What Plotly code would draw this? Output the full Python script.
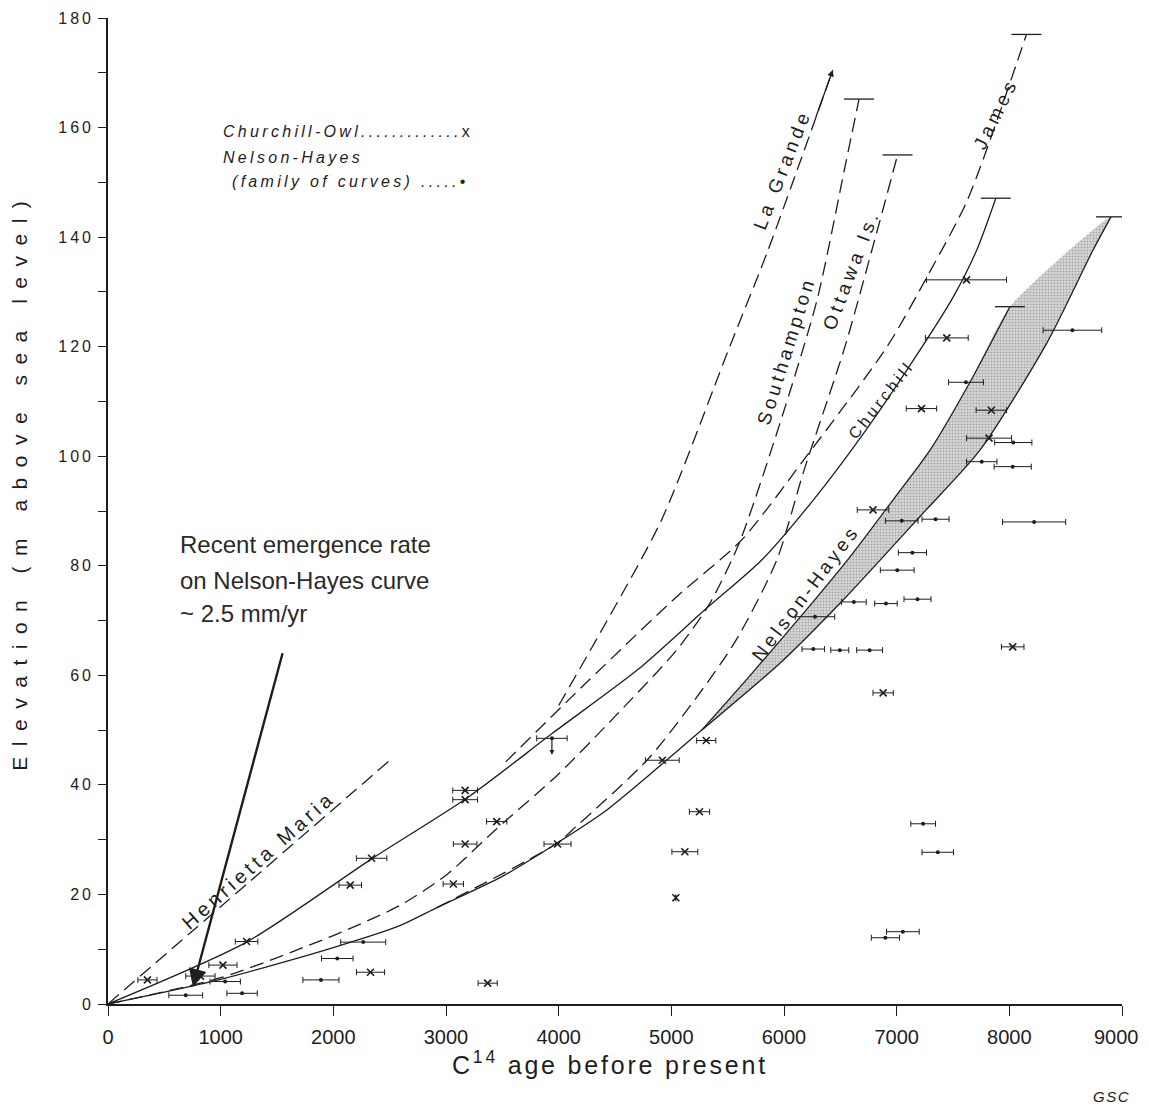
import plotly.graph_objects as go

# ---------------- data ----------------
x_ticks = [0, 1000, 2000, 3000, 4000, 5000, 6000, 7000, 8000, 9000]
y_ticks = list(range(0, 181, 10))

# curves (age, elevation)
hm_x = [0, 1260, 2530]
hm_y = [0, 22.4, 45.0]

church_x = [0, 1230, 2340, 3200, 3950, 4700, 5300, 5800, 6260, 6700, 7150, 7500, 7710, 7880]
church_y = [0, 11.3, 26.5, 37.8, 49.5, 61.0, 72.0, 81.0, 92.0, 104.0, 117.6, 129.0, 137.6, 147.1]

nh_low_x = [0, 1000, 2000, 2590, 2920, 3500, 3980, 4400, 4900, 5270, 5964, 6523, 7207, 7739, 8331, 8742, 8902]
nh_low_y = [0, 4.5, 10.3, 14.3, 17.6, 23.3, 29.3, 35.0, 43.5, 50.0, 62.2, 73.7, 89.0, 101.1, 120.6, 137.6, 143.7]

nh_up_x = [5270, 5700, 6200, 6600, 6967, 7296, 7650, 8005]
nh_up_y = [50.0, 60.0, 72.0, 82.0, 92.0, 101.1, 113.5, 127.3]

south_x = [0, 1000, 2000, 2592, 3000, 3450, 4000, 4500, 5047, 5343, 5600, 5964, 6293, 6541, 6666]
south_y = [0, 4.8, 12.5, 18.0, 23.5, 32.0, 42.0, 52.5, 64.6, 73.2, 84.0, 106.0, 128.5, 152.8, 165.2]

ottawa_x = [2920, 3982, 4160, 4810, 5547, 5935, 6171, 6541, 6821, 7008]
ottawa_y = [17.6, 29.3, 32.5, 45.1, 65.5, 81.0, 97.0, 120.0, 140.7, 155.0]

james_x = [3530, 4127, 5050, 5624, 6200, 6915, 7287, 7629, 8152]
james_y = [44.2, 56.3, 74.4, 84.7, 100.0, 120.0, 133.4, 146.8, 177.0]

lagrande_x = [4000, 4367, 4914, 5516, 5858, 6433]
lagrande_y = [54.5, 67.7, 88.4, 119.9, 137.6, 170.5]

# Churchill-Owl dated samples (x markers)
co_age = [350, 1020, 1230, 820, 2150, 2340, 3170, 3170, 3450, 3170, 3065, 3990, 2330, 3370,
          5310, 4920, 5250, 5120, 5040, 8030, 6880, 7620, 7445, 7220, 7840, 7820, 6790]
co_elev = [4.4, 7.1, 11.4, 5.1, 21.7, 26.6, 39.0, 37.3, 33.3, 29.2, 21.9, 29.2, 5.8, 3.8,
           48.1, 44.5, 35.1, 27.8, 19.4, 65.2, 56.8, 132.2, 121.6, 108.7, 108.4, 103.3, 90.2]
co_err = [85, 125, 100, 130, 100, 135, 110, 110, 90, 105, 90, 120, 125, 85,
          85, 150, 90, 115, 0, 100, 90, 355, 190, 135, 135, 200, 140]

# Nelson-Hayes dated samples (dots)
nh_age = [1040, 690, 1190, 1890, 2035, 2265, 3940, 7755, 8030, 7045, 7345, 8220, 7140, 7005,
          6620, 6905, 7185, 6275, 6260, 6495, 6760, 8560, 7615, 8035, 7055, 6900, 7235, 7365]
nh_elev = [4.1, 1.6, 1.95, 4.4, 8.3, 11.3, 48.5, 99.0, 98.1, 88.2, 88.5, 88.0, 82.4, 79.2,
           73.4, 73.1, 73.9, 70.7, 64.8, 64.6, 64.6, 123.0, 113.5, 102.5, 13.2, 12.1, 32.9, 27.7]
nh_err = [135, 150, 135, 160, 140, 200, 135, 135, 165, 145, 120, 280, 125, 150,
          110, 100, 120, 175, 100, 80, 115, 260, 155, 165, 145, 125, 110, 140]

note_lines = ['Recent emergence rate', 'on Nelson-Hayes curve', '~ 2.5 mm/yr']

INK = '#1e1e1e'
FONT = 'Liberation Sans, Arial, sans-serif'
DASH = '14px,7px'


def sp(text, px):
    return f'<span style="letter-spacing:{px}px">{text}</span>'


fig = go.Figure()

# shaded Nelson-Hayes band
split = nh_low_x.index(nh_up_x[0])
band_x = nh_up_x + nh_low_x[split:][::-1]
band_y = nh_up_y + nh_low_y[split:][::-1]
fig.add_trace(go.Scatter(x=band_x, y=band_y, fill='toself', mode='lines',
                         line=dict(width=0, shape='spline', smoothing=0.6),
                         fillcolor='#cfcfcf',
                         fillpattern=dict(shape='.', fgcolor='#7a7a7a', bgcolor='#d9d9d9', size=3, solidity=0.4),
                         hoverinfo='skip', showlegend=False))


def curve(x, y, dash=None):
    fig.add_trace(go.Scatter(x=x, y=y, mode='lines',
                             line=dict(color=INK, width=1.3, dash=dash, shape='spline', smoothing=0.7),
                             hoverinfo='skip', showlegend=False))


curve(hm_x, hm_y, DASH)
curve(church_x, church_y)
curve(nh_low_x, nh_low_y)
curve(nh_up_x, nh_up_y)
curve(south_x, south_y, DASH)
curve(ottawa_x, ottawa_y, DASH)
curve(james_x, james_y, DASH)
curve(lagrande_x, lagrande_y, DASH)

# T bars at the ends of the curves
ends = [(south_x, south_y), (ottawa_x, ottawa_y), (james_x, james_y),
        (church_x, church_y), (nh_low_x, nh_low_y), (nh_up_x, nh_up_y)]
half = 133
tx, ty = [], []
for cx, cy in ends:
    tx += [cx[-1] - half, cx[-1] + half, None]
    ty += [cy[-1], cy[-1], None]
fig.add_trace(go.Scatter(x=tx, y=ty, mode='lines', line=dict(color=INK, width=1.3),
                         hoverinfo='skip', showlegend=False))

# samples
fig.add_trace(go.Scatter(x=co_age, y=co_elev, mode='markers',
                         marker=dict(symbol='x-thin', size=7, line=dict(color=INK, width=1.6)),
                         error_x=dict(type='data', array=co_err, color=INK, thickness=1, width=3),
                         showlegend=False))
fig.add_trace(go.Scatter(x=nh_age, y=nh_elev, mode='markers',
                         marker=dict(symbol='circle', size=4, color=INK),
                         error_x=dict(type='data', array=nh_err, color=INK, thickness=1, width=3),
                         showlegend=False))

# small arrows
i7 = 6
fig.add_annotation(x=nh_age[i7], y=nh_elev[i7] - 3.0, ax=nh_age[i7], ay=nh_elev[i7], axref='x', ayref='y',
                   showarrow=True, arrowhead=2, arrowsize=0.8, arrowwidth=1.2, arrowcolor=INK, text='')
fig.add_annotation(x=lagrande_x[-1], y=lagrande_y[-1], ax=lagrande_x[-2] + 420, ay=lagrande_y[-2] + 24,
                   axref='x', ayref='y', showarrow=True, arrowhead=2, arrowsize=1.0, arrowwidth=1.3,
                   arrowcolor=INK, text='')

# curve labels
def lab(text, X, Y, ang, size=19, s=4.2):
    fig.add_annotation(x=X, y=Y, text=sp(text, s), textangle=-ang, showarrow=False,
                       xanchor='center', yanchor='middle',
                       font=dict(family=FONT, size=size, color=INK))


lab('La Grande', 5982, 152.4, 68.6)
lab('Southampton', 6020, 119.3, 72.5, s=3.7)
lab('Ottawa Is.', 6600, 134.0, 69.0)
lab('James', 7879, 162.6, 63.7)
lab('Churchill', 6866, 110.3, 51.5, size=16, s=3.6)
lab('Nelson-Hayes', 6187, 75.0, 53.0, size=19, s=3.8)
lab('Henrietta Maria', 1334, 26.3, 41.6, size=20, s=4.0)

# legend text
lfont = dict(family=FONT, size=16, color=INK)
fig.add_annotation(x=1000, y=159.3, xanchor='left', yanchor='middle', showarrow=False, font=lfont,
                   text=sp('<i>Churchill-Owl.............</i>x', 3.3))
fig.add_annotation(x=1000, y=154.6, xanchor='left', yanchor='middle', showarrow=False, font=lfont,
                   text=sp('<i>Nelson-Hayes</i>', 3.3))
fig.add_annotation(x=1080, y=150.1, xanchor='left', yanchor='middle', showarrow=False, font=lfont,
                   text=sp('<i>(family of curves) .....</i>•', 3.3))

# emergence-rate note with arrow
for line, yy in zip(note_lines, [83.8, 77.4, 71.2]):
    fig.add_annotation(x=621, y=yy, xanchor='left', yanchor='middle', align='left', showarrow=False,
                       text=line, font=dict(family=FONT, size=24, color='#2a2a2a'))
fig.add_annotation(x=754, y=3.1, ax=1553, ay=64.3, axref='x', ayref='y', text='', showarrow=True,
                   arrowhead=2, arrowsize=1.5, arrowwidth=2.4, arrowcolor=INK)

# axis titles
fig.add_annotation(xref='paper', x=-0.087, y=95.5, xanchor='center', yanchor='middle',
                   textangle=-90, showarrow=False,
                   text=sp('Elevation (m above sea level)', 10.5),
                   font=dict(family=FONT, size=21, color=INK))
fig.add_annotation(xref='paper', yref='paper', x=0.495, y=-0.06, xanchor='center', yanchor='middle',
                   showarrow=False,
                   text=sp('C<sup>14</sup> age before present', 2.8),
                   font=dict(family=FONT, size=25, color=INK))
fig.add_annotation(xref='paper', yref='paper', x=0.99, y=-0.094, xanchor='center', yanchor='middle',
                   showarrow=False,
                   text=sp('<i>GSC</i>', 1.5), font=dict(family=FONT, size=15, color=INK))

# x tick labels: the last one is drawn as an annotation nudged left so it stays inside the page
xfont = dict(family=FONT, size=20, color=INK)
x_text = [str(v) for v in x_ticks[:-1]] + ['']
fig.add_annotation(x=x_ticks[-1], yref='paper', y=-0.0335, xanchor='right', yanchor='middle',
                   xshift=19, showarrow=False, text=str(x_ticks[-1]), font=xfont)

y_text = [sp(str(v), 3) if v % 20 == 0 else '' for v in y_ticks]

# the page body adds an 8px offset, so the figure is a little smaller than the window
fig.update_layout(
    width=1141, height=1100,
    margin=dict(l=100, r=27, t=10, b=104, autoexpand=False),
    paper_bgcolor='white', plot_bgcolor='white',
    showlegend=False,
    xaxis=dict(range=[0, 9000], tickvals=x_ticks, ticktext=x_text, showgrid=False, zeroline=False,
               automargin=False,
               showline=True, linecolor=INK, linewidth=1.6, ticks='outside', ticklen=10,
               tickcolor=INK, tickwidth=1.3, ticklabelstandoff=4,
               tickfont=xfont),
    yaxis=dict(range=[0, 180], tickvals=y_ticks, ticktext=y_text, showgrid=False, zeroline=False,
               automargin=False,
               showline=True, linecolor=INK, linewidth=1.6, ticks='outside', ticklen=8,
               tickcolor=INK, tickwidth=1.3, ticklabelstandoff=1,
               tickfont=dict(family=FONT, size=16, color=INK)),
)

fig.write_html('out.html')
